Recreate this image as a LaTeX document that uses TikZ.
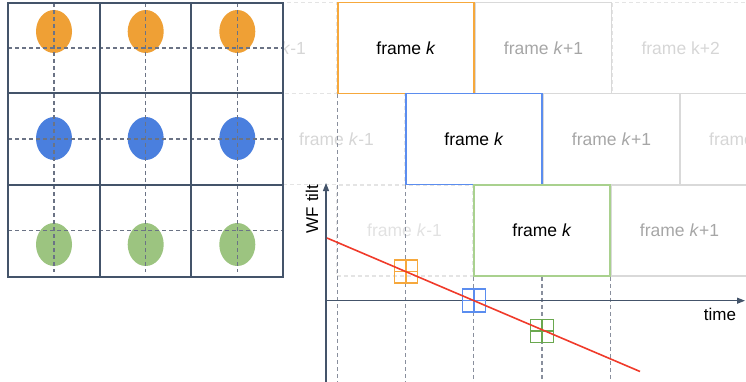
\documentclass[tikz,border=0pt]{standalone}
\usepackage{fontspec}
\setmainfont{Liberation Sans}
\usetikzlibrary{positioning,arrows.meta,backgrounds}

\definecolor{gridc}{HTML}{44546A}
\definecolor{dashc}{HTML}{6B7385}
\definecolor{frOr}{HTML}{F6A83C}
\definecolor{frBl}{HTML}{5B8DEF}
\definecolor{frGr}{HTML}{A9D18E}
\definecolor{blobOr}{HTML}{EFA035}
\definecolor{blobBl}{HTML}{4A7FDE}
\definecolor{blobGr}{HTML}{9CC480}
\definecolor{sqGr}{HTML}{6AA84F}
\definecolor{tiltred}{HTML}{F03A2A}
\definecolor{boxgrey}{HTML}{D9D9D9}
\definecolor{txtgrey}{HTML}{A6A6A6}
\definecolor{txtfaint}{HTML}{D6D6D6}
\definecolor{txtfainter}{HTML}{E2E2E2}

\tikzset{
  frmbox/.style={rectangle, minimum width=136pt, minimum height=91pt, inner sep=0pt,
    font=\fontsize{17.5}{20}\selectfont},
  nowbox/.style={frmbox, draw, line width=1.8pt},
  nextbox/.style={frmbox, draw=boxgrey, line width=1.2pt, text=txtgrey},
  oldbox/.style={frmbox, draw=boxgrey!70, line width=1.1pt, dash pattern=on 4pt off 3pt, text=txtfaint},
  gridline/.style={gridc, line width=2pt},
  griddash/.style={dashc, line width=1.1pt, dash pattern=on 4pt off 3pt},
  dropline/.style={dashc!80, line width=1.1pt, dash pattern=on 4pt off 3pt},
  axisline/.style={gridc, line width=1.3pt},
  sample/.style={rectangle, draw, line width=1.4pt, minimum size=23pt, inner sep=0pt},
  axlabel/.style={font=\fontsize{17}{19}\selectfont}
}

\begin{document}
\begin{tikzpicture}[x=1pt,y=-1pt]
\useasboundingbox (0,0) rectangle (746,382);

% frames k
\node[nowbox, draw=frOr] (ok) at (406,48) {frame \textit{k}};
\node[nowbox, draw=frBl] (bk) at (474,139) {frame \textit{k}};
\node[nowbox, draw=frGr] (gk) at (542,230.5) {frame \textit{k}};

% neighbouring frames
\begin{scope}[on background layer]
  \node[oldbox, left=0pt of ok] (okm) {frame \textit{k}-1};
  \node[nextbox, right=0pt of ok] (okp) {frame \textit{k}+1};
  \node[oldbox, right=0pt of okp] (okpp) {frame k+2};
  \node[oldbox, left=0pt of bk] (bkm) {frame \textit{k}-1};
  \node[nextbox, right=0pt of bk] (bkp) {frame \textit{k}+1};
  \node[nextbox, right=0pt of bkp, text=txtfaint] (bkpp) {frame \textit{k}+2};
  \node[oldbox, left=0pt of gk, text=txtfainter] (gkm) {frame \textit{k}-1};
  \node[nextbox, right=0pt of gk] (gkp) {frame \textit{k}+1};
\end{scope}

% pupil grid
\fill[white] (8,3) rectangle (283,277);
\foreach \x in {54,145.7,237.3} {
  \fill[blobOr] (\x,31.5) ellipse (18pt and 21.5pt);
  \fill[blobBl] (\x,138.5) ellipse (18pt and 21.5pt);
  \fill[blobGr] (\x,244.5) ellipse (18pt and 21.5pt);
  \draw[griddash] (\x,3) -- (\x,272);
}
\foreach \y in {48,139,230.7}
  \draw[griddash] (8,\y) -- (283,\y);
\draw[gridline] (8,3) rectangle (283,277);
\foreach \x in {99.7,191.3}
  \draw[gridline] (\x,3) -- (\x,277);
\foreach \y in {93,185}
  \draw[gridline] (8,\y) -- (283,\y);

% time axis
\coordinate (bot) at (0,382);
\draw[dropline] (ok.south west) -- (ok.south west |- bot);
\draw[dropline] (bk.south west) -- (bk.south west |- bot);
\draw[dropline] (gk.south west) -- (gk.south west |- bot);
\draw[dropline] (gk.south) -- (gk.south |- bot);
\draw[dropline] (gk.south east) -- (gk.south east |- bot);

\coordinate (ybot) at (326,382);
\coordinate (ytop) at (326,183);
\coordinate (xl) at (326,300.7);
\coordinate (xr) at (745,300.7);
\draw[axisline, -{Triangle[width=6pt,length=8pt]}] (ybot) -- (ytop);
\draw[axisline, -{Triangle[width=6pt,length=8pt]}] (xl) -- (xr);
\node[axlabel, rotate=90] (wf) at (312,209) {WF tilt};
\node[axlabel] (tm) at (720,314) {time};

% samples
\node[sample, draw=frOr] (so) at (406,271.5) {};
\node[sample, draw=frBl] (sb) at (474,300.5) {};
\node[sample, draw=sqGr] (sg) at (542,331) {};
\draw[frOr, line width=1.4pt] (so.north) -- (so.south) (so.west) -- (so.east);
\draw[frBl, line width=1.4pt] (sb.north) -- (sb.south) (sb.west) -- (sb.east);
\draw[sqGr, line width=1.4pt] (sg.north) -- (sg.south) (sg.west) -- (sg.east);

\coordinate (r0) at (327,238);
\coordinate (r1) at (640,371.5);
\draw[tiltred, line width=1.6pt] (r0) -- (r1);
\end{tikzpicture}
\end{document}
